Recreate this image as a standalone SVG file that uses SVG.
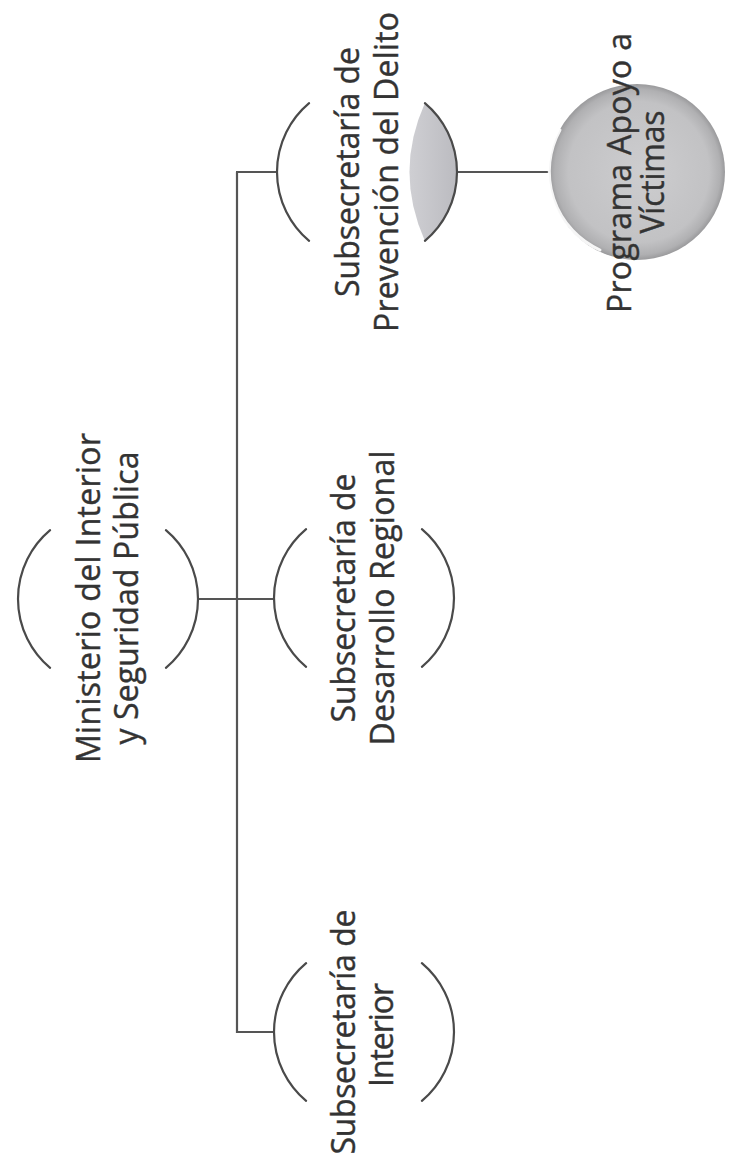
<svg xmlns="http://www.w3.org/2000/svg" width="730" height="1174" viewBox="0 0 730 1174">
<defs>
<style>
.arc{fill:none;stroke:#4a4a4a;stroke-width:2.2;stroke-linecap:round}
.conn{fill:none;stroke:#555;stroke-width:2.2}
.t{font-family:"Open Sans","Liberation Sans",sans-serif;font-size:32px;fill:#333;stroke:#333;stroke-width:0.4;text-anchor:middle}
</style>
<linearGradient id="lens" x1="0" y1="0" x2="1" y2="0">
<stop offset="0" stop-color="#cfcfd3"/>
<stop offset="1" stop-color="#bbbbc0"/>
</linearGradient>
<radialGradient id="sphere" cx="0.5" cy="0.5" r="0.5" fx="0.55" fy="0.5">
<stop offset="0" stop-color="#cdcdcf"/>
<stop offset="0.8" stop-color="#c2c2c4"/>
<stop offset="0.94" stop-color="#b0b0b2"/>
<stop offset="1" stop-color="#9a9a9c"/>
</radialGradient>
</defs>
<rect width="730" height="1174" fill="#ffffff"/>
<g id="connectors">
<path class="conn" d="M198,599 H274"/>
<path class="conn" d="M237,172 V1033"/>
<path class="conn" d="M236,172 H277"/>
<path class="conn" d="M236,1032 H274"/>
<path class="conn" d="M457,172 H550"/>
</g>
<g id="node-ministerio">
<path class="arc" d="M50.1,530.1 A90 90 0 0 0 50.1,667.9"/>
<path class="arc" d="M165.9,530.1 A90 90 0 0 1 165.9,667.9"/>
<text class="t" transform="translate(100,598) rotate(-90)" textLength="330">Ministerio del Interior</text>
<text class="t" transform="translate(138,598) rotate(-90)" textLength="293">y Seguridad Pública</text>
</g>
<g id="node-interior">
<path class="arc" d="M306.1,963.1 A90 90 0 0 0 306.1,1100.9"/>
<path class="arc" d="M421.9,963.1 A90 90 0 0 1 421.9,1100.9"/>
<text class="t" transform="translate(355,1032) rotate(-90)" textLength="245">Subsecretaría de</text>
<text class="t" transform="translate(393,1035) rotate(-90)" textLength="104">Interior</text>
</g>
<g id="node-desarrollo">
<path class="arc" d="M306.1,529.1 A90 90 0 0 0 306.1,666.9"/>
<path class="arc" d="M421.9,529.1 A90 90 0 0 1 421.9,666.9"/>
<text class="t" transform="translate(355,598) rotate(-90)" textLength="249">Subsecretaría de</text>
<text class="t" transform="translate(394,598) rotate(-90)" textLength="295">Desarrollo Regional</text>
</g>
<g id="node-prevencion">
<path d="M424.9,103.1 A90 90 0 0 1 424.9,240.9 Q394,172 424.9,103.1 Z" fill="url(#lens)"/>
<path class="arc" d="M309.1,103.1 A90 90 0 0 0 309.1,240.9"/>
<path class="arc" d="M424.9,103.1 A90 90 0 0 1 424.9,240.9"/>
<text class="t" transform="translate(359,172) rotate(-90)" textLength="250">Subsecretaría de</text>
<text class="t" transform="translate(398,172) rotate(-90)" textLength="320">Prevención del Delito</text>
</g>
<g id="node-programa">
<circle cx="637" cy="172" r="88" fill="url(#sphere)"/>
<path d="M560,130 A86 86 0 0 0 600,250" fill="none" stroke="#ffffff" stroke-width="3" stroke-opacity="0.9" stroke-linecap="round"/>
<text class="t" transform="translate(631,173) rotate(-90)" textLength="280">Programa Apoyo a</text>
<text class="t" transform="translate(664,172) rotate(-90)" textLength="123">Víctimas</text>
</g>
</svg>
